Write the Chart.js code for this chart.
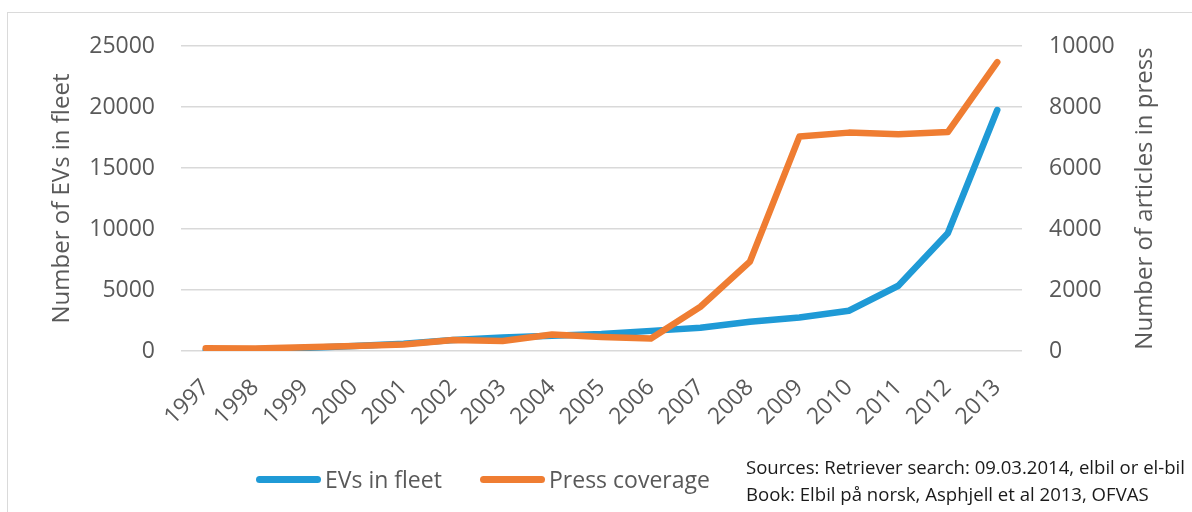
<!DOCTYPE html>
<html>
<head>
<meta charset="utf-8">
<script src="https://cdn.jsdelivr.net/npm/chart.js@4.4.1/dist/chart.umd.min.js"></script>
<style>
  html, body { margin: 0; padding: 0; background: #fff; }
  #wrap { position: relative; width: 1192px; height: 512px; overflow: hidden; }
  #frame { position: absolute; left: 7px; top: 12px; width: 1200px; height: 520px; border: 1px solid #dadada; }
  canvas { position: absolute; left: 0; top: 0; }
  .legend-item { position: absolute; top: 463px; height: 32px; display: flex; align-items: center;
    font-family: "Open Sans", sans-serif; font-size: 23px; color: #595959; white-space: nowrap; }
  .swatch { display: inline-block; width: 65px; height: 7px; border-radius: 4px; margin-right: 4px; }
  #sources { position: absolute; left: 746px; top: 454px; font-family: "Open Sans", sans-serif;
    font-size: 19px; line-height: 27px; color: #1a1a1a; white-space: nowrap; transform-origin: 0 0; }
</style>
</head>
<body>
<div id="wrap">
  <div id="frame"></div>
  <canvas id="chart" width="1192" height="512"></canvas>
  <div class="legend-item" style="left:256px"><span class="swatch" style="background:#1f9ad6"></span>EVs in fleet</div>
  <div class="legend-item" style="left:480px"><span class="swatch" style="background:#ef7d32"></span>Press coverage</div>
  <div id="sources">Sources: Retriever search: 09.03.2014, elbil or el-bil<br>Book: Elbil på norsk, Asphjell et al 2013, OFVAS</div>
</div>
<script>
// data
const years = ['1997', '1998', '1999', '2000', '2001', '2002', '2003', '2004', '2005',
  '2006', '2007', '2008', '2009', '2010', '2011', '2012', '2013'];
const evsInFleet = [80, 150, 250, 400, 600, 900, 1100, 1250, 1400,
  1650, 1900, 2400, 2750, 3300, 5350, 9650, 19750];
const pressCoverage = [90, 80, 120, 160, 210, 360, 330, 540, 460,
  410, 1450, 2930, 7030, 7160, 7110, 7180, 9470];
const leftTitle = 'Number of EVs in fleet';
const rightTitle = 'Number of articles in press';

const grey = '#595959';
const tickFont = { family: '"Open Sans", sans-serif', size: 23 };
const plainNumber = (v) => String(v);

// Chart.js rotates a right-hand title the other way, so both titles are drawn here
const axisTitlePlugin = {
  id: 'axisTitles',
  afterDraw(chart) {
    const { ctx, chartArea } = chart;
    const cy = (chartArea.top + chartArea.bottom) / 2;
    ctx.save();
    ctx.fillStyle = grey;
    ctx.font = '24px "Open Sans", sans-serif';
    ctx.textAlign = 'center';
    ctx.textBaseline = 'middle';
    [[62, leftTitle], [1145, rightTitle]].forEach(([x, text]) => {
      ctx.save();
      ctx.translate(x, cy);
      ctx.rotate(-Math.PI / 2);
      ctx.fillText(text, 0, 0);
      ctx.restore();
    });
    ctx.restore();
  }
};

const ctx = document.getElementById('chart').getContext('2d');
new Chart(ctx, {
  type: 'line',
  data: {
    labels: years,
    datasets: [
      {
        label: 'EVs in fleet',
        data: evsInFleet,
        yAxisID: 'y',
        borderColor: '#1f9ad6',
        backgroundColor: '#1f9ad6',
        borderWidth: 6.5,
        pointRadius: 0,
        borderJoinStyle: 'round',
        borderCapStyle: 'round',
        tension: 0,
        order: 2
      },
      {
        label: 'Press coverage',
        data: pressCoverage,
        yAxisID: 'y1',
        borderColor: '#ef7d32',
        backgroundColor: '#ef7d32',
        borderWidth: 6.5,
        pointRadius: 0,
        borderJoinStyle: 'round',
        borderCapStyle: 'round',
        tension: 0,
        order: 1
      }
    ]
  },
  options: {
    responsive: false,
    animation: false,
    layout: { padding: { top: 46, left: 0, right: 0, bottom: 0 } },
    plugins: { legend: { display: false }, tooltip: { enabled: false } },
    scales: {
      x: {
        offset: true,
        grid: { display: false },
        border: { display: false },
        ticks: { color: grey, font: tickFont, minRotation: 45, maxRotation: 45, padding: 15, autoSkip: false },
        afterFit(s) { s.height = 161; }
      },
      y: {
        position: 'left',
        min: 0,
        max: 25000,
        ticks: { stepSize: 5000, color: grey, font: tickFont, padding: 26, callback: plainNumber },
        grid: { color: '#d9d9d9', lineWidth: 1.5, drawTicks: false },
        border: { display: false },
        afterFit(s) { s.width = 181; }
      },
      y1: {
        position: 'right',
        min: 0,
        max: 10000,
        ticks: { stepSize: 2000, color: grey, font: tickFont, padding: 27, callback: plainNumber },
        grid: { display: false, drawTicks: false },
        border: { display: false },
        afterFit(s) { s.width = 170; }
      }
    }
  },
  plugins: [axisTitlePlugin]
});

// squeeze the source note to the width it has in the reference
const src = document.getElementById('sources');
const w = src.getBoundingClientRect().width;
if (w > 0) src.style.transform = 'scaleX(' + (439 / w) + ')';
</script>
</body>
</html>
